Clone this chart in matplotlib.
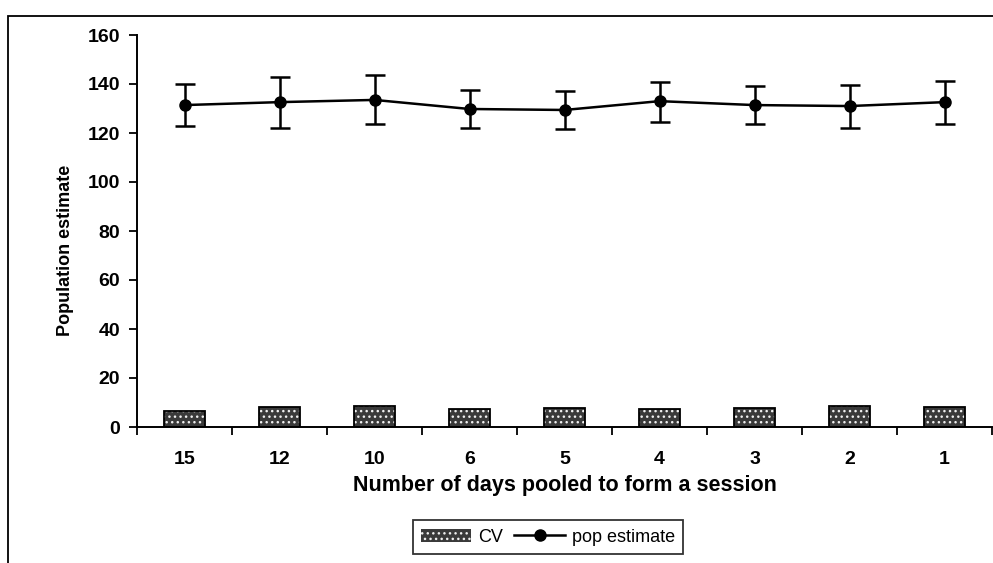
import matplotlib
matplotlib.use('Agg')
from matplotlib import pyplot as plt
from matplotlib.patches import Rectangle
from matplotlib.lines import Line2D
import numpy as np

plt.rcParams['font.family'] = ['Liberation Sans', 'DejaVu Sans']

days = ['15', '12', '10', '6', '5', '4', '3', '2', '1']
cv = [6.5, 8.3, 8.6, 7.2, 7.6, 7.2, 7.7, 8.6, 8.1]
pop_est = [131.4, 132.6, 133.5, 129.8, 129.4, 133.0, 131.4, 131.0, 132.6]
err_hi = [140.0, 142.9, 143.7, 137.6, 137.1, 140.8, 139.2, 139.6, 141.2]
err_lo = [123.0, 122.0, 123.7, 122.0, 121.6, 124.5, 123.7, 122.0, 123.7]

x = np.arange(len(days))
yerr = [np.array(pop_est) - np.array(err_lo), np.array(err_hi) - np.array(pop_est)]

fig = plt.figure(figsize=(9.93, 5.63), dpi=100)
ax = fig.add_axes([137/993, 1 - 427/563, (992 - 137)/993, (427 - 35)/563])

# outer chart frame
fig.patches.append(Rectangle((8/993, -0.05), 1.1, 1 - 16/563 + 0.05, transform=fig.transFigure,
                             fill=False, edgecolor='black', linewidth=1.3, zorder=0))

bars = ax.bar(x, cv, width=0.44, color='#3a3a3a', edgecolor='#f0f0f0', hatch='...',
              linewidth=0, label='CV', zorder=2)
ax.bar(x, cv, width=0.44, facecolor='none', edgecolor='black', linewidth=1.3, zorder=3)

ax.errorbar(x, pop_est, yerr=yerr, color='black', marker='o', markersize=8,
            linewidth=1.8, elinewidth=1.8, capsize=7, capthick=1.8, zorder=4)
line_handle = Line2D([], [], color='black', marker='o', markersize=8, linewidth=1.8)

ax.set_xlim(-0.5, len(days) - 0.5)
ax.set_ylim(0, 160)
ax.set_yticks(range(0, 161, 20))
ax.set_xticks(x)
ax.set_xticklabels(days)
ax.set_xticks(np.arange(-0.5, len(days), 1), minor=True)
ax.tick_params(axis='x', which='major', length=0, pad=17, labelsize=14)
ax.tick_params(axis='x', which='minor', length=6, width=1.3, direction='out')
ax.tick_params(axis='y', length=6, width=1.3, direction='out', labelsize=14, pad=6)
for lab in ax.get_xticklabels() + ax.get_yticklabels():
    lab.set_fontweight('bold')

for s in ['top', 'right']:
    ax.spines[s].set_visible(False)
ax.spines['left'].set_linewidth(1.4)
ax.spines['bottom'].set_linewidth(1.4)

ax.set_xlabel('Number of days pooled to form a session', fontsize=15.5, fontweight='bold', labelpad=5)
ax.set_ylabel('Population estimate', fontsize=13, fontweight='bold')
ax.yaxis.set_label_coords(-0.0735, 0.45)

leg = fig.legend(handles=[bars, line_handle], labels=['CV', 'pop estimate'], loc='center',
                 bbox_to_anchor=(548/993, 1 - 537/563), ncol=2, fontsize=13,
                 frameon=True, fancybox=False, edgecolor='black', handlelength=2.8,
                 columnspacing=0.6, handletextpad=0.4, borderpad=0.45)
leg.get_frame().set_linewidth(1.3)

fig.savefig('out.png', dpi=100)
